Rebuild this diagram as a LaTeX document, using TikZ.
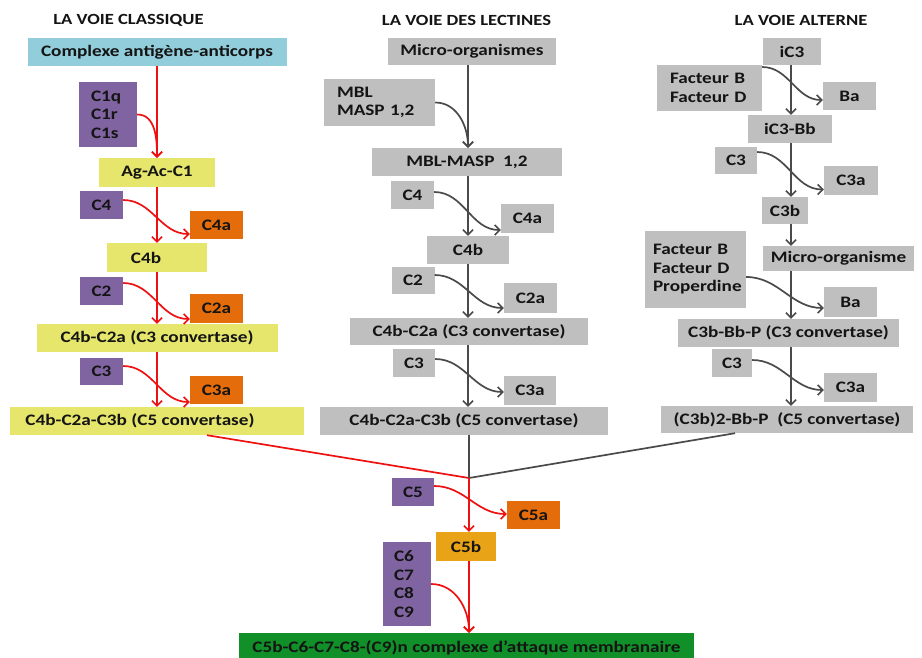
\documentclass[tikz,border=0pt]{standalone}
\usepackage{fontspec}
\setmainfont{Carlito}[FakeStretch=1.2]
\usetikzlibrary{arrows.meta,calc}
\definecolor{cblue}{HTML}{92CDDC}
\definecolor{cpurple}{HTML}{8064A2}
\definecolor{cyellow}{HTML}{E6E66C}
\definecolor{corange}{HTML}{E46C0A}
\definecolor{cgold}{HTML}{E8A317}
\definecolor{cgray}{HTML}{BFBFBF}
\definecolor{cgreen}{HTML}{118F28}
\definecolor{cred}{HTML}{EE1111}
\definecolor{cdark}{HTML}{4A4A4A}
\definecolor{ctext}{HTML}{141414}
\begin{document}
\begin{tikzpicture}[x=1pt,y=-1pt,
  bx/.style={inner sep=0pt, font=\fontsize{16}{18.5}\selectfont\bfseries, text=ctext},
  sz/.style 2 args={minimum width=#1pt, minimum height=#2pt},
  ml/.style 2 args={align=left, inner xsep=#1pt, text width=#2pt},
  ttl/.style={inner sep=0pt, font=\fontsize{15.5}{17}\selectfont\bfseries, text=ctext},
  tipx/.style={-{Straight Barb[length=5pt,width=10pt,line width=1.6pt]}},
  ra/.style={draw=cred, line width=1.7pt, tipx},
  rl/.style={draw=cred, line width=1.7pt},
  ga/.style={draw=cdark, line width=1.7pt, tipx},
  gl/.style={draw=cdark, line width=1.7pt},
  pu/.style={bx, fill=cpurple},
  ye/.style={bx, fill=cyellow},
  orn/.style={bx, fill=corange},
  gr/.style={bx, fill=cgray}
]
\clip (0,0) rectangle (922,657);
\fill[white] (0,0) rectangle (922,657);

% titles
\node[ttl] (t1) at (128.5,20) {LA VOIE CLASSIQUE};
\node[ttl] (t2) at (466.5,20) {LA VOIE DES LECTINES};
\node[ttl] (t3) at (801,20) {LA VOIE ALTERNE};

% ---------------- classical pathway
\node[bx, fill=cblue, sz={259}{28}] (ac) at (157,52) {Complexe antigène-anticorps};
\node[pu, sz={58}{65}, ml={12}{34}] (c1) at (108,114.5) {C1q\\C1r\\C1s};
\node[ye, sz={116}{29}] (agac) at (157,172.5) {Ag-Ac-C1};
\node[pu, sz={43}{28}] (lc4) at (101.5,205) {C4};
\node[orn, sz={53}{28}] (lc4a) at (216.5,225) {C4a};
\node[ye, sz={100}{29}] (lc4b) at (157,257.5) {C4b\hspace*{22pt}};
\node[pu, sz={43}{28}] (lc2) at (101.5,291) {C2};
\node[orn, sz={53}{29}] (lc2a) at (216.5,308) {C2a};
\node[ye, sz={241}{28}] (lc3conv) at (157,338) {C4b-C2a (C3 convertase)};
\node[pu, sz={43}{27}] (lc3) at (101.5,371.5) {C3};
\node[orn, sz={53}{28}] (lc3a) at (216.5,390) {C3a};
\node[ye, sz={294}{28}] (lc5conv) at (157,421) {C4b-C2a-C3b (C5 convertase)\hspace*{34pt}};

\draw[ra] (ac.south) -- (agac.north);
\draw[ra] (c1.east) to[out=0,in=90] (agac.north);
\draw[ra] (agac.south) -- (lc4b.north);
\draw[ra] ([yshift=5pt]lc4.east) to[out=0,in=180] ([yshift=-9pt]lc4a.west);
\draw[ra] (lc4b.south) -- (lc3conv.north);
\draw[ra] ([yshift=8pt]lc2.east) to[out=0,in=180] ([yshift=-11pt]lc2a.west);
\draw[ra] (lc3conv.south) -- (lc5conv.north);
\draw[ra] ([yshift=5.5pt]lc3.east) to[out=0,in=180] ([yshift=-12pt]lc3a.west);

% ---------------- lectin pathway
\coordinate (mx) at (468,0);
\node[gr, sz={168}{27}] (micro) at (472,51.5) {Micro-organismes};
\node[gr, sz={111}{47}, ml={13}{85}] (mbl) at (379.5,102.5) {MBL\\MASP 1,2};
\node[gr, sz={190}{28}] (mblmasp) at (467,162) {MBL-MASP\ \ 1,2};
\node[gr, sz={43}{28}] (mc4) at (412.5,195) {C4};
\node[gr, sz={53}{29}] (mc4a) at (527.5,218.5) {C4a};
\node[gr, sz={82}{28}] (mc4b) at (468,250) {C4b};
\node[gr, sz={43}{27}] (mc2) at (413,280) {C2};
\node[gr, sz={53}{30}] (mc2a) at (530.5,298) {C2a};
\node[gr, sz={238}{27}] (mc3conv) at (469,331.5) {C4b-C2a (C3 convertase)};
\node[gr, sz={42}{28}] (mc3) at (414,363) {C3};
\node[gr, sz={52}{29}] (mc3a) at (530,390.5) {C3a};
\node[gr, sz={288}{28}] (mc5conv) at (464,421) {C4b-C2a-C3b (C5 convertase)};

\draw[ga] (micro.south -| mx) -- (mblmasp.north -| mx);
\draw[ga] (mbl.east) to[out=0,in=90] (mblmasp.north -| mx);
\draw[ga] (mblmasp.south -| mx) -- (mc4b.north -| mx);
\draw[ga] ([yshift=3pt]mc4.east) to[out=0,in=180] ([yshift=-11.5pt]mc4a.west);
\draw[ga] (mc4b.south -| mx) -- (mc3conv.north -| mx);
\draw[ga] ([yshift=5pt]mc2.east) to[out=0,in=180] ([yshift=-10pt]mc2a.west);
\draw[ga] (mc3conv.south -| mx) -- (mc5conv.north -| mx);
\draw[ga] ([yshift=4pt]mc3.east) to[out=0,in=180] ([yshift=-1.5pt]mc3a.west);

% ---------------- alternative pathway
\coordinate (rx) at (791,0);
\node[gr, sz={58}{27}] (ic3) at (792,51.5) {iC3};
\node[gr, sz={105}{46}, ml={13}{79}] (fbd) at (709.5,88) {Facteur B\\Facteur D};
\node[gr, sz={53}{28}] (rba1) at (849.5,96) {Ba};
\node[gr, sz={84}{28}] (ic3bb) at (790,129) {iC3-Bb};
\node[gr, sz={42}{27}] (rc31) at (736,160.5) {C3};
\node[gr, sz={54}{29}] (rc3a1) at (851,180.5) {C3a};
\node[gr, sz={46}{27}] (rc3b) at (785,210.5) {C3b};
\node[gr, sz={151}{25}] (microo) at (838.5,258.5) {Micro-organisme};
\node[gr, sz={101}{77}, ml={8}{85}] (fbdp) at (695.5,269.5) {Facteur B\\Facteur D\\Properdine};
\node[gr, sz={53}{30}] (rba2) at (850.5,302) {Ba};
\node[gr, sz={221}{28}] (rc3conv) at (788.5,333) {C3b-Bb-P (C3 convertase)};
\node[gr, sz={40}{28}] (rc32) at (732,363) {C3};
\node[gr, sz={53}{29}] (rc3a2) at (850.5,387.5) {C3a};
\node[gr, sz={252}{27}] (rc5conv) at (787,419.5) {(C3b)2-Bb-P\ \ (C5 convertase)};

\draw[ga] (ic3.south -| rx) -- (ic3bb.north -| rx);
\draw[ga] ([yshift=21pt]fbd.east) to[out=0,in=180] ([yshift=-4pt]rba1.west);
\draw[ga] (ic3bb.south -| rx) -- (rc3b.north -| rx);
\draw[ga] ([yshift=8.5pt]rc31.east) to[out=0,in=180] ([yshift=-9pt]rc3a1.west);
\draw[ga] (rc3b.south -| rx) -- (microo.north -| rx);
\draw[ga] (microo.south -| rx) -- (rc3conv.north -| rx);
\draw[ga] ([yshift=-7.5pt]fbdp.east) to[out=0,in=180] ([yshift=-6pt]rba2.west);
\draw[ga] (rc3conv.south -| rx) -- (rc5conv.north -| rx);
\draw[ga] ([yshift=3pt]rc32.east) to[out=0,in=180] ([yshift=-2.5pt]rc3a2.west);

% ---------------- terminal pathway
\coordinate (J) at (469,478);
\node[pu, sz={42}{28}] (c5) at (413,492) {C5};
\node[orn, sz={53}{28}] (c5a) at (533.5,515) {C5a};
\node[bx, fill=cgold, sz={60}{29}] (c5b) at (466,546.5) {C5b};
\node[pu, sz={48}{84}, ml={11}{26}] (c69) at (407,584) {C6\\C7\\C8\\C9};
\node[bx, fill=cgreen, sz={455}{30}] (green) at (466.5,648) {C5b-C6-C7-C8-(C9)n complexe d’attaque membranaire};

\draw[rl] ([xshift=50pt]lc5conv.south) -- (J);
\draw[gl] ([xshift=-52pt]rc5conv.south) -- (J);
\draw[gl] (mc5conv.south -| J) -- (J);
\draw[ra] (J) -- (c5b.north -| J);
\draw[ra] ([yshift=6pt]c5.east) to[out=0,in=180] ([yshift=1pt]c5a.west);
\draw[ra] (c5b.south -| J) -- (green.north -| J);
\draw[ra] (c69.east) to[out=0,in=90] (green.north -| J);
\end{tikzpicture}
\end{document}
